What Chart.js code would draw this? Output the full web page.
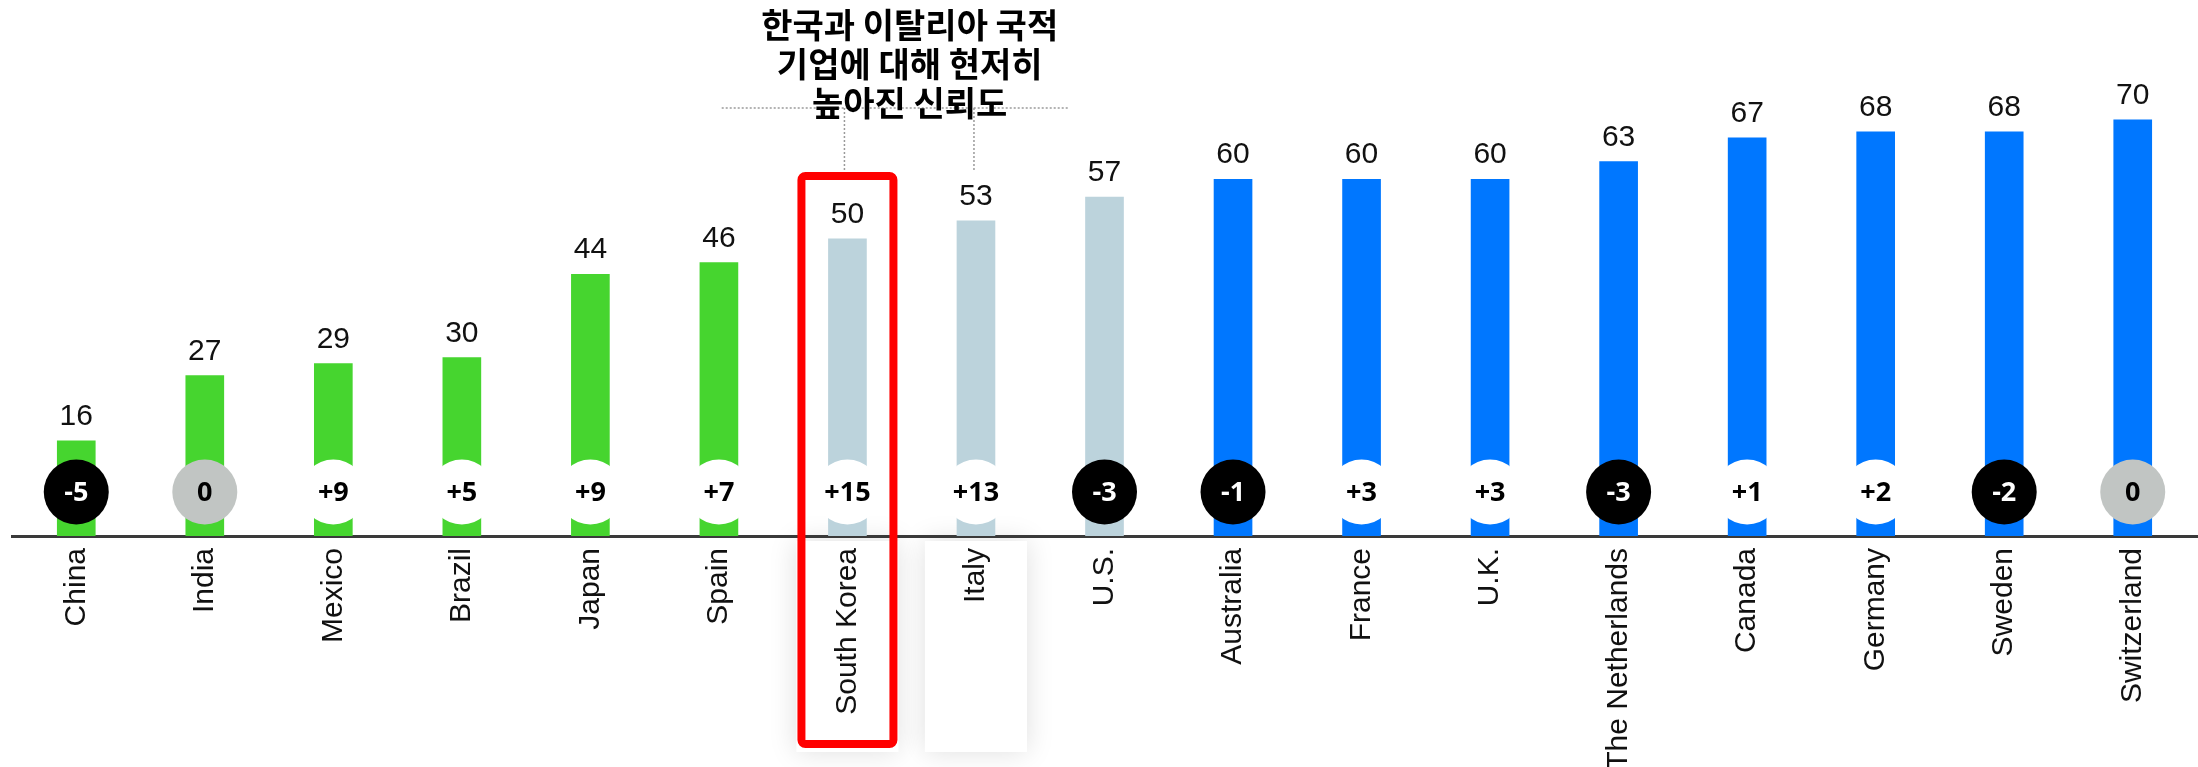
<!DOCTYPE html>
<html lang="ko">
<head>
<meta charset="utf-8">
<title>국가별 기업 신뢰도</title>
<script src="https://cdn.jsdelivr.net/npm/chart.js@4.4.1/dist/chart.umd.min.js"></script>
<style>
    html, body { margin: 0; padding: 0; background: #fff; }
    #wrap { width: 2198px; height: 767px; position: relative; }
</style>
</head>
<body>
<div id="wrap"><canvas id="trust"></canvas></div>
<script>
// trust in companies headquartered in each country
let countries = ['China', 'India', 'Mexico', 'Brazil', 'Japan', 'Spain', 'South Korea', 'Italy', 'U.S.',
    'Australia', 'France', 'U.K.', 'The Netherlands', 'Canada', 'Germany', 'Sweden', 'Switzerland'];
let trustScores = [16, 27, 29, 30, 44, 46, 50, 53, 57, 60, 60, 60, 63, 67, 68, 68, 70];
let yearChange = [-5, 0, 9, 5, 9, 7, 15, 13, -3, -1, 3, 3, -3, 1, 2, -2, 0];
let groups = ['low', 'low', 'low', 'low', 'low', 'low', 'mid', 'mid', 'mid',
    'high', 'high', 'high', 'high', 'high', 'high', 'high', 'high'];
let noteLines = ['한국과 이탈리아 국적', '기업에 대해 현저히', '높아진 신뢰도'];
let highlighted = ['South Korea', 'Italy'];

const groupColors = { low: '#46d52f', mid: '#bcd3dc', high: '#0077ff' };

// light panels under the highlighted labels, drawn first so labels sit on top
const panelsPlugin = {
    id: 'panels',
    beforeDraw: function (chart) {
        let ctx = chart.ctx;
        let meta = chart.getDatasetMeta(0);
        let base = chart.chartArea.bottom;
        ctx.save();
        ctx.shadowColor = 'rgba(0,0,0,0.13)';
        ctx.shadowBlur = 26;
        ctx.fillStyle = '#ffffff';
        highlighted.forEach( name => {
            let bar = meta.data[countries.indexOf(name)];
            ctx.fillRect(bar.x - 51, base + 5, 102, 211);
        });
        ctx.restore();
    }
};

// value on top of each bar, change badge near the base
const marksPlugin = {
    id: 'marks',
    afterDatasetsDraw: function (chart) {
        let ctx = chart.ctx;
        let meta = chart.getDatasetMeta(0);
        let base = chart.chartArea.bottom;
        ctx.save();
        meta.data.forEach( (bar, i) => {
            ctx.font = '30px "Liberation Sans", Arial, sans-serif';
            ctx.fillStyle = '#111';
            ctx.textAlign = 'center';
            ctx.textBaseline = 'alphabetic';
            ctx.fillText(String(trustScores[i]), bar.x, bar.y - 16);

            let d = yearChange[i];
            let cy = base - 44;
            ctx.beginPath();
            ctx.arc(bar.x, cy, 32.5, 0, Math.PI * 2);
            ctx.fillStyle = d < 0 ? '#000000' : (d === 0 ? '#c1c5c3' : '#ffffff');
            ctx.fill();
            ctx.font = 'bold 27px "Open Sans", "Noto Sans", sans-serif';
            ctx.fillStyle = d < 0 ? '#ffffff' : '#000000';
            ctx.textBaseline = 'middle';
            ctx.fillText(d > 0 ? '+' + d : String(d), bar.x, cy + 1);
        });
        ctx.restore();
    }
};

// callout note with dotted leaders and the red frame
const notePlugin = {
    id: 'note',
    afterDraw: function (chart) {
        let ctx = chart.ctx;
        let meta = chart.getDatasetMeta(0);
        let base = chart.chartArea.bottom;
        let a = meta.data[countries.indexOf(highlighted[0])];
        let b = meta.data[countries.indexOf(highlighted[1])];
        let mid = (a.x + b.x) / 2 - 2;
        ctx.save();

        ctx.strokeStyle = '#9a9a9a';
        ctx.lineWidth = 1.5;
        ctx.setLineDash([2, 2]);
        ctx.beginPath();
        ctx.moveTo(mid - 188, 108);
        ctx.lineTo(mid + 160, 108);
        ctx.moveTo(a.x - 3, 108);
        ctx.lineTo(a.x - 3, 170);
        ctx.moveTo(b.x - 2, 108);
        ctx.lineTo(b.x - 2, 170);
        ctx.stroke();
        ctx.setLineDash([]);

        ctx.font = 'bold 34px "Noto Sans CJK KR", sans-serif';
        ctx.fillStyle = '#000';
        ctx.textAlign = 'center';
        ctx.textBaseline = 'middle';
        noteLines.forEach( (line, i) => {
            ctx.fillText(line, mid, 25 + i * 39);
        });

        ctx.strokeStyle = '#ff0000';
        ctx.lineWidth = 8;
        ctx.beginPath();
        ctx.roundRect(a.x - 46, 176, 92, base + 208 - 176, 4);
        ctx.stroke();
        ctx.restore();
    }
};

new Chart(document.getElementById('trust'), {
    type: 'bar',
    data: {
        labels: countries,
        datasets: [{
            data: trustScores,
            backgroundColor: groups.map( g => groupColors[g] ),
            barThickness: 38,
            borderWidth: 0
        }]
    },
    options: {
        responsive: true,
        maintainAspectRatio: false,
        animation: false,
        events: [],
        layout: { padding: { top: 1, left: 12, right: 1, bottom: 0 } },
        plugins: {
            legend: { display: false },
            tooltip: { enabled: false }
        },
        scales: {
            x: {
                offset: true,
                grid: { display: false, drawTicks: false },
                border: { display: true, color: '#3a3a3a', width: 3 },
                ticks: {
                    minRotation: 90,
                    maxRotation: 90,
                    autoSkip: false,
                    padding: 12,
                    color: '#111',
                    font: { family: '"Liberation Sans", Arial, sans-serif', size: 30 }
                },
                afterFit: function (scale) {
                    scale.height = 231;
                }
            },
            y: {
                display: false,
                min: 0,
                max: 90
            }
        }
    },
    plugins: [panelsPlugin, marksPlugin, notePlugin]
});
</script>
</body>
</html>
